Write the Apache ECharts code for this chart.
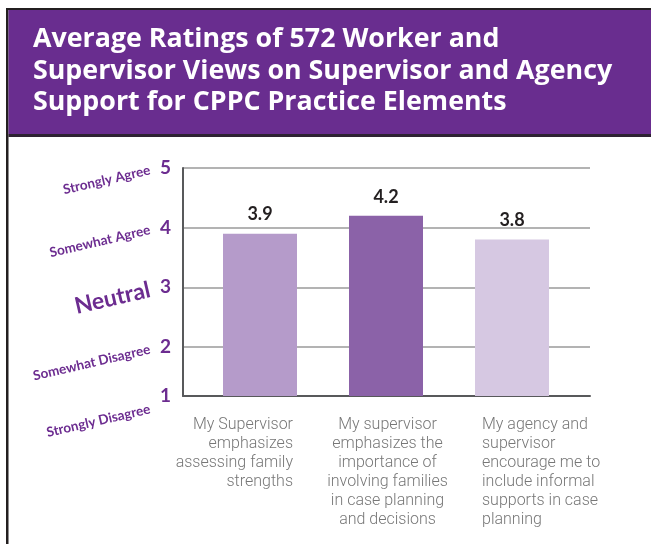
<!DOCTYPE html>
<html>
<head>
<meta charset="utf-8">
<script src="https://cdn.jsdelivr.net/npm/echarts@6/dist/echarts.min.js"></script>
<style>
html, body { margin: 0; padding: 0; background: #fff; }
#chart { width: 651px; height: 544px; }
</style>
</head>
<body>
<div id="chart"></div>
<script>
// chart data
var categories = [
  'My Supervisor\nemphasizes\nassessing family\nstrengths',
  'My supervisor\nemphasizes the\nimportance of\ninvolving families\nin case planning\nand decisions',
  'My agency and\nsupervisor\nencourage me to\ninclude informal\nsupports in case\nplanning'
]
var ratings = [3.9, 4.2, 3.8]
var barColors = ['#b59bca', '#8b62a8', '#d6c8e2']
var labelAligns = ['right', 'center', 'left']
var tickLabels = ['1', '2', '3', '4', '5']
var scaleLabels = ['Strongly Disagree', 'Somewhat Disagree', 'Neutral', 'Somewhat Agree', 'Strongly Agree']

var purple = '#6c2c90'
var axisMin = 1.18 // bottom axis sits a bit above "1"
var tickValues = [axisMin, 2, 3, 4, 5]

var chart = echarts.init(document.getElementById('chart'))

var option = {
  animation: false,
  title: {
    text: 'Average Ratings of 572 Worker and\nSupervisor Views on Supervisor and Agency\nSupport for CPPC Practice Elements',
    left: 33,
    top: 24,
    padding: 0,
    textStyle: {
      color: '#fff',
      fontFamily: 'Open Sans',
      fontWeight: 'bold',
      fontSize: 26.8,
      lineHeight: 31.5
    }
  },
  graphic: [
    { type: 'rect', z: -1, shape: { x: 6, y: 8, width: 645, height: 2 }, style: { fill: '#231f20' } },
    { type: 'rect', z: -1, shape: { x: 6, y: 8, width: 2.5, height: 540 }, style: { fill: '#231f20' } },
    { type: 'rect', z: -1, shape: { x: 8.5, y: 10, width: 643, height: 124 }, style: { fill: '#692d8f' } },
    { type: 'rect', z: -1, shape: { x: 8.5, y: 134, width: 643, height: 3 }, style: { fill: '#2e2233' } }
  ],
  grid: [
    { left: 183, top: 168, width: 407, height: 228 },   // frame + numbers
    { left: 197, top: 168, width: 378, height: 228 },   // bars
    { left: 245.75, top: 168, width: 283.5, height: 228 }, // category labels
    { left: 183, top: 170, width: 407, height: 239 }    // rating words 1..5
  ],
  xAxis: [
    {
      gridIndex: 0, type: 'value', min: 0, max: 1,
      axisLine: { show: true, onZero: false, lineStyle: { color: '#58595b', width: 2 } },
      axisTick: { show: false }, axisLabel: { show: false }, splitLine: { show: false }
    },
    {
      gridIndex: 1, type: 'category', data: categories,
      axisLine: { show: false }, axisTick: { show: false }, axisLabel: { show: false }
    },
    {
      gridIndex: 2, type: 'category',
      data: categories.map(function(c, i) {
        return { value: c, textStyle: { align: labelAligns[i] } }
      }),
      axisLine: { show: false },
      axisTick: { show: false },
      axisLabel: {
        interval: 0,
        margin: 19,
        fontFamily: 'Roboto',
        fontWeight: 300,
        fontSize: 16,
        lineHeight: 19,
        color: '#777777'
      }
    },
    { gridIndex: 3, type: 'value', show: false }
  ],
  yAxis: [
    {
      gridIndex: 0, type: 'value', min: axisMin, max: 5,
      axisLine: { show: true, lineStyle: { color: '#58595b', width: 2 } },
      axisTick: { show: false, customValues: tickValues },
      splitLine: { show: true, lineStyle: { color: '#9a9a9a', width: 1.5 } },
      axisLabel: {
        customValues: tickValues,
        margin: 12,
        color: purple,
        fontFamily: 'Lato',
        fontWeight: 'bold',
        fontSize: 19,
        formatter: function(v) { return tickLabels[Math.round(v) - 1] }
      }
    },
    { gridIndex: 1, type: 'value', min: axisMin, max: 5, show: false },
    { gridIndex: 2, type: 'value', min: axisMin, max: 5, show: false },
    {
      gridIndex: 3, type: 'value', min: 1, max: 5, interval: 1,
      axisLine: { show: false }, axisTick: { show: false }, splitLine: { show: false },
      axisLabel: {
        margin: 33,
        rotate: 13,
        formatter: function(v) {
          var s = scaleLabels[Math.round(v) - 1]
          return v === 3 ? '{big|' + s + '}' : '{small|' + s + '}'
        },
        rich: {
          small: { color: purple, fontFamily: 'Lato', fontWeight: 'bold', fontSize: 13.5 },
          big: { color: purple, fontFamily: 'Lato', fontWeight: 'bold', fontSize: 23 }
        }
      }
    }
  ],
  series: [{
    type: 'bar',
    xAxisIndex: 1,
    yAxisIndex: 1,
    barWidth: 74,
    data: ratings.map(function(v, i) {
      return { value: v, itemStyle: { color: barColors[i] } }
    }),
    label: {
      show: true,
      position: 'top',
      distance: 10,
      color: '#231f20',
      fontFamily: 'Lato',
      fontWeight: 'bold',
      fontSize: 18,
      formatter: function(p) { return p.value.toFixed(1) }
    }
  }]
}

chart.setOption(option)
</script>
</body>
</html>
